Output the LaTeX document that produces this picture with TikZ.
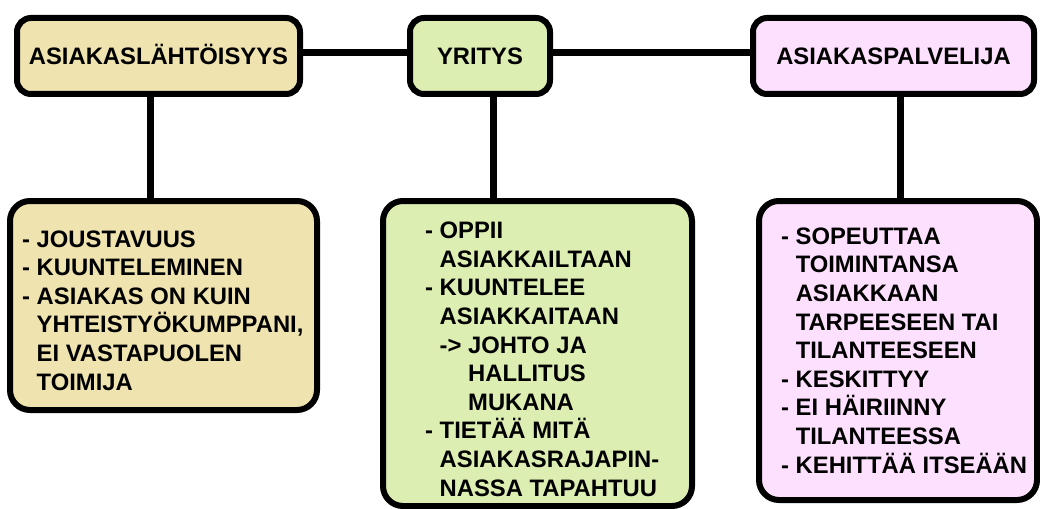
\documentclass[tikz,border=0pt]{standalone}
\usepackage{fontspec}
\setmainfont{Liberation Sans}
\definecolor{tanfill}{HTML}{EFE3AF}
\definecolor{greenfill}{HTML}{DDEEB2}
\definecolor{pinkfill}{HTML}{FDE0FD}
\newcommand{\ind}{\phantom{- }}
\newcommand{\indd}{\phantom{- -> }}
\begin{document}
\begin{tikzpicture}[x=1pt,y=-1pt,
  box/.style={draw=black, line width=6pt, rounded corners=14pt, inner sep=0pt},
  bigbox/.style={box, rounded corners=20pt},
  headtext/.style={font=\fontsize{23.8}{28.6}\selectfont\bfseries, text height=16.8pt, text depth=0pt},
  bodytext/.style={font=\fontsize{23.8}{28.6}\selectfont\bfseries, align=left, anchor=base west, inner sep=0pt},
  link/.style={line width=7pt}]
\useasboundingbox (0,0) rectangle (1040,508);

% top row
\node[box, headtext, fill=tanfill, minimum width=283pt, minimum height=76pt] (b1) at (158.5,56) {ASIAKASLÄHTÖISYYS};
\node[box, headtext, fill=greenfill, minimum width=140pt, minimum height=76pt] (b2) at (480,56) {YRITYS};
\node[box, headtext, fill=pinkfill, minimum width=281pt, minimum height=76pt] (b3) at (893.5,56) {ASIAKASPALVELIJA};

% bottom row
\node[bigbox, fill=tanfill, minimum width=307pt, minimum height=209pt] (b4) at (163.5,305.5) {};
\node[bigbox, fill=greenfill, minimum width=309pt, minimum height=305pt] (b5) at (537.5,353.5) {};
\node[bigbox, fill=pinkfill, minimum width=278pt, minimum height=299pt] (b6) at (898,350.5) {};

% lists, placed by the baseline of their last line
\node[bodytext] (t4) at (22,390) {- JOUSTAVUUS\\
- KUUNTELEMINEN\\
- ASIAKAS ON KUIN\\
\ind YHTEISTYÖKUMPPANI,\\
\ind EI VASTAPUOLEN\\
\ind TOIMIJA};

\node[bodytext] (t5) at (425,496) {- OPPII\\
\ind ASIAKKAILTAAN\\
- KUUNTELEE\\
\ind ASIAKKAITAAN\\
\ind -> JOHTO JA\\
\indd HALLITUS\\
\indd MUKANA\\
- TIETÄÄ MITÄ\\
\ind ASIAKASRAJAPIN-\\
\ind NASSA TAPAHTUU};

\node[bodytext] (t6) at (781,473) {- SOPEUTTAA\\
\ind TOIMINTANSA\\
\ind ASIAKKAAN\\
\ind TARPEESEEN TAI\\
\ind TILANTEESEEN\\
- KESKITTYY\\
- EI HÄIRIINNY\\
\ind TILANTEESSA\\
- KEHITTÄÄ ITSEÄÄN};

% connectors
\draw[link] ([yshift=3pt]b1.east) -- ([yshift=3pt]b2.west);
\draw[link] ([yshift=3pt]b2.east) -- ([yshift=3pt]b3.west);
\coordinate (v1) at (150,0);
\coordinate (v2) at (493,0);
\coordinate (v3) at (900,0);
\draw[link] (v1 |- b1.south) -- (v1 |- b4.north);
\draw[link] (v2 |- b2.south) -- (v2 |- b5.north);
\draw[link] (v3 |- b3.south) -- (v3 |- b6.north);
\end{tikzpicture}
\end{document}
